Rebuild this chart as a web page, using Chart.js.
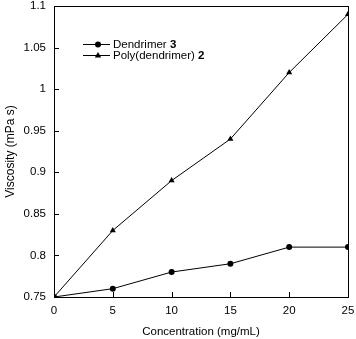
<!DOCTYPE html>
<html>
<head>
<meta charset="utf-8">
<script src="https://cdn.jsdelivr.net/npm/chart.js@4/dist/chart.umd.min.js"></script>
<style>
  html, body { margin: 0; padding: 0; background: #fff; }
  #wrap { width: 356px; height: 339px; }
</style>
</head>
<body>
<div id="wrap"><canvas id="chart1"></canvas></div>
<script>
const concentration = [0, 5, 10, 15, 20, 25];
const dendrimer3 = [0.75, 0.76, 0.78, 0.79, 0.81, 0.81];
const polyDendrimer2 = [0.75, 0.83, 0.89, 0.94, 1.02, 1.09];
const seriesNames = [["Dendrimer ", "3"], ["Poly(dendrimer) ", "2"]];

const FONT = "'Liberation Sans', Arial, sans-serif";

// box around the plot + inward tick marks
const frameTicks = {
    id: 'frameTicks',
    afterDraw(chart) {
        const {ctx, chartArea: a, scales} = chart;
        ctx.save();
        ctx.strokeStyle = '#000';
        ctx.lineWidth = 1;
        ctx.strokeRect(Math.round(a.left) + 0.5, Math.round(a.top) + 0.5,
            Math.round(a.right - a.left), Math.round(a.bottom - a.top));
        ctx.beginPath();
        scales.x.ticks.forEach(t => {
            const x = Math.round(scales.x.getPixelForValue(t.value)) + 0.5;
            ctx.moveTo(x, a.bottom);
            ctx.lineTo(x, a.bottom - 5);
        });
        scales.y.ticks.forEach(t => {
            const y = Math.round(scales.y.getPixelForValue(t.value)) + 0.5;
            ctx.moveTo(a.left, y);
            ctx.lineTo(a.left + 5, y);
        });
        ctx.stroke();
        ctx.restore();
    }
};

// legend with bold compound numbers
const boldLegend = {
    id: 'boldLegend',
    afterDraw(chart) {
        const {ctx} = chart;
        const x0 = 83, x1 = 110, tx = 113;
        const rows = [44, 55];
        ctx.save();
        chart.data.datasets.forEach((ds, i) => {
            const y = rows[i] + 0.5;
            ctx.strokeStyle = '#000';
            ctx.fillStyle = '#000';
            ctx.lineWidth = 1;
            ctx.beginPath();
            ctx.moveTo(x0, y);
            ctx.lineTo(x1, y);
            ctx.stroke();
            const mx = 98;
            ctx.beginPath();
            if (ds.pointStyle === 'triangle') {
                ctx.moveTo(mx, y - 3.5);
                ctx.lineTo(mx + 3.2, y + 2);
                ctx.lineTo(mx - 3.2, y + 2);
                ctx.closePath();
            } else {
                ctx.arc(mx, y, 3, 0, Math.PI * 2);
            }
            ctx.fill();
            const [name, num] = seriesNames[i];
            ctx.textBaseline = 'middle';
            ctx.font = '11.5px ' + FONT;
            ctx.fillText(name, tx, y);
            const w = ctx.measureText(name).width;
            ctx.font = 'bold 11.5px ' + FONT;
            ctx.fillText(num, tx + w, y);
        });
        ctx.restore();
    }
};

const ctx1 = document.getElementById("chart1").getContext("2d");

var chart1 = new Chart(ctx1, {
    type: "line",
    data: {
        labels: concentration,
        datasets: [{
                label: seriesNames[0].join(''),
                data: dendrimer3,
                borderColor: '#000',
                backgroundColor: '#000',
                borderWidth: 1,
                pointStyle: 'circle',
                pointRadius: 3,
                pointBorderWidth: 0,
            },
            {
                label: seriesNames[1].join(''),
                data: polyDendrimer2,
                borderColor: '#000',
                backgroundColor: '#000',
                borderWidth: 1,
                pointStyle: 'triangle',
                pointRadius: 3.5,
                pointBorderWidth: 0,
            },
        ],
    },
    options: {
        animation: false,
        responsive: true,
        maintainAspectRatio: false,
        layout: {
            padding: {left: 0, right: 8, top: 6, bottom: 0}
        },
        scales: {
            x: {
                type: 'linear',
                min: 0,
                max: 25,
                ticks: {
                    stepSize: 5,
                    color: '#000',
                    font: {family: FONT, size: 11.5},
                    padding: 7,
                    maxRotation: 0,
                },
                grid: {display: false, drawTicks: false},
                border: {display: false},
                title: {
                    display: true,
                    text: 'Concentration (mg/mL)',
                    color: '#000',
                    font: {family: FONT, size: 11.5},
                    padding: {top: 7, bottom: 0},
                },
                afterFit(scale) {
                    scale.height = 42;
                    scale.paddingLeft = 0;
                    scale.paddingRight = 0;
                },
            },
            y: {
                min: 0.75,
                max: 1.1,
                ticks: {
                    stepSize: 0.05,
                    color: '#000',
                    font: {family: FONT, size: 11.5},
                    padding: 8,
                    callback: v => String(parseFloat(v.toFixed(2))),
                },
                grid: {display: false, drawTicks: false},
                border: {display: false},
                title: {
                    display: true,
                    text: 'Viscosity (mPa s)',
                    color: '#000',
                    font: {family: FONT, size: 12},
                    padding: {top: 3, bottom: 4},
                },
                afterFit(scale) {
                    scale.width = 54;
                    scale.paddingTop = 0;
                    scale.paddingBottom = 0;
                },
            },
        },
        plugins: {
            legend: {display: false},
            tooltip: {enabled: false},
        },
    },
    plugins: [frameTicks, boldLegend],
});
</script>
</body>
</html>
